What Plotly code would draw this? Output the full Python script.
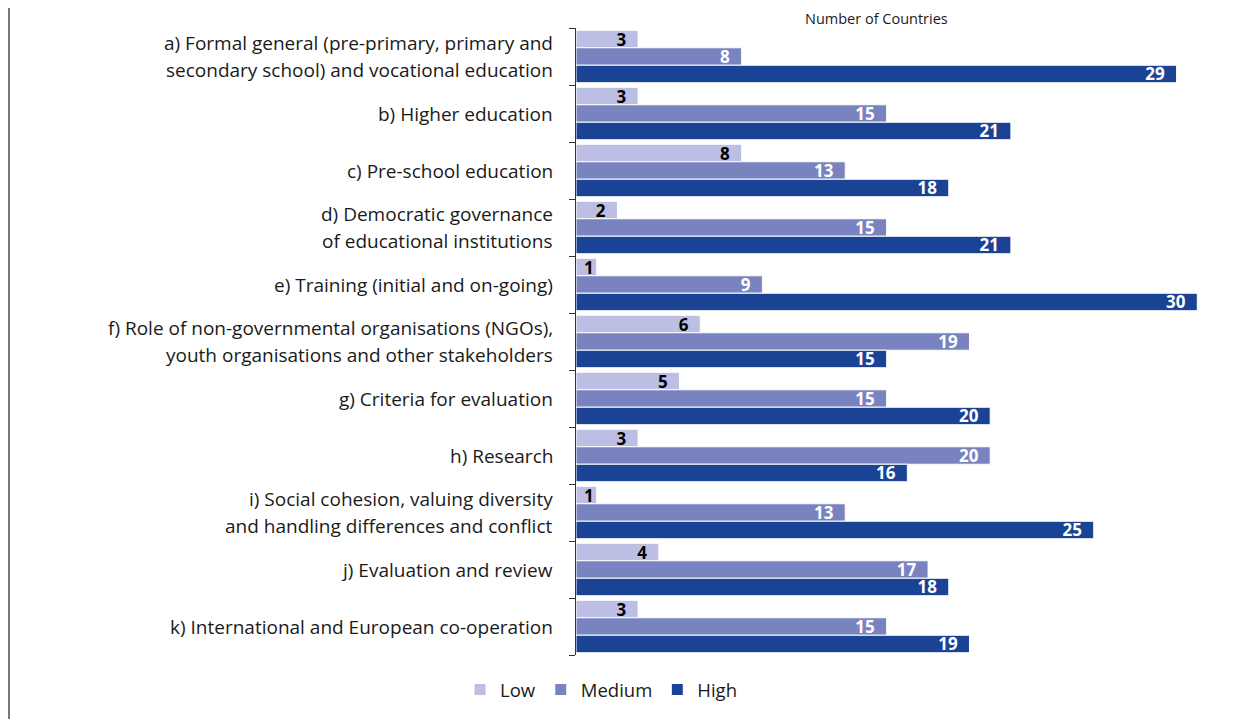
import plotly.graph_objects as go

categories = [
    "a) Formal general (pre-primary, primary and<br>secondary school) and vocational education",
    "b) Higher education",
    "c) Pre-school education",
    "d) Democratic governance<br>of educational institutions",
    "e) Training (initial and on-going)",
    "f) Role of non-governmental organisations (NGOs),<br>youth organisations and other stakeholders",
    "g) Criteria for evaluation",
    "h) Research",
    "i) Social cohesion, valuing diversity<br>and handling differences and conflict",
    "j) Evaluation and review",
    "k) International and European co-operation",
]
low = [3, 3, 8, 2, 1, 6, 5, 3, 1, 4, 3]
medium = [8, 15, 13, 15, 9, 19, 15, 20, 13, 17, 15]
high = [29, 21, 18, 21, 30, 15, 20, 16, 25, 18, 19]
series_names = ["Low", "Medium", "High"]
colors = ["#BCBFE3", "#7983C0", "#1A4396"]
text_colors = ["#000000", "#FFFFFF", "#FFFFFF"]

FONT = "Open Sans"
n = len(categories)
ypos = list(range(n))

# page body has 8px margin; figure is offset by 8px
W, H = 1231, 712
ML, MT, MB = 568, 20, 64
PW = 642
MR = W - ML - PW
PH = H - MT - MB

NB = "\u00a0"

def label(v):
    return f"{v}{NB*2}" if v >= 2 else str(v)

fig = go.Figure()
for name, vals, col, tcol in zip(series_names, [low, medium, high], colors, text_colors):
    fig.add_trace(go.Bar(
        y=ypos, x=vals, orientation="h", name=name,
        marker=dict(color=col, line=dict(color="white", width=1)),
        text=[label(v) for v in vals], textposition="inside", textangle=0,
        insidetextanchor="end", constraintext="none",
        textfont=dict(family=FONT, size=17, color=tcol, weight="bold"),
        cliponaxis=False,
    ))

annotations = []
for i, c in enumerate(categories):
    lines = c.split("<br>")
    if len(lines) == 1:
        shifts = [0]
    else:
        shifts = [13.5, -13.5]
    for ln, sh in zip(lines, shifts):
        annotations.append(dict(
            x=0, xref="x", y=i, yref="y", text=ln, showarrow=False,
            xanchor="right", yanchor="middle", align="right", xshift=-21, yshift=sh,
            font=dict(family=FONT, size=19, color="#1a1a1a"),
        ))
annotations.append(dict(
    x=(876 - 576) / PW, xref="paper", y=1.0, yref="paper", yanchor="bottom", yshift=-2,
    text="Number of Countries", showarrow=False,
    font=dict(family=FONT, size=14.5, color="#1a1a1a"),
))

boundaries = [i - 0.5 for i in range(n + 1)]

fig.update_layout(
    width=W, height=H,
    margin=dict(l=ML, r=MR, t=MT, b=MB),
    paper_bgcolor="white", plot_bgcolor="white",
    barmode="group", bargap=0.08, bargroupgap=0,
    font=dict(family=FONT, color="#1a1a1a"),
    showlegend=True,
    legend=dict(orientation="h", x=(460 - 576) / PW, xanchor="left",
                y=-34 / PH, yanchor="middle",
                font=dict(family=FONT, size=18.5, color="#1a1a1a"),
                itemwidth=30, traceorder="normal"),
    annotations=annotations,
    shapes=[dict(type="line", xref="paper", yref="paper",
                 x0=(-567) / PW, x1=(-567) / PW,
                 y0=-MB / PH, y1=(PH + MT) / PH,
                 line=dict(color="#777777", width=2))],
)
fig.update_xaxes(range=[0, 31], showgrid=False, zeroline=False,
                 showticklabels=False, showline=False, ticks="")
fig.update_yaxes(range=[n - 0.5, -0.5], tickmode="array", tickvals=boundaries,
                 ticktext=[""] * len(boundaries), ticks="outside", ticklen=6,
                 tickcolor="#333333", showline=True, linecolor="#333333",
                 linewidth=1, showgrid=False, zeroline=False)

fig.write_html("out.html")
